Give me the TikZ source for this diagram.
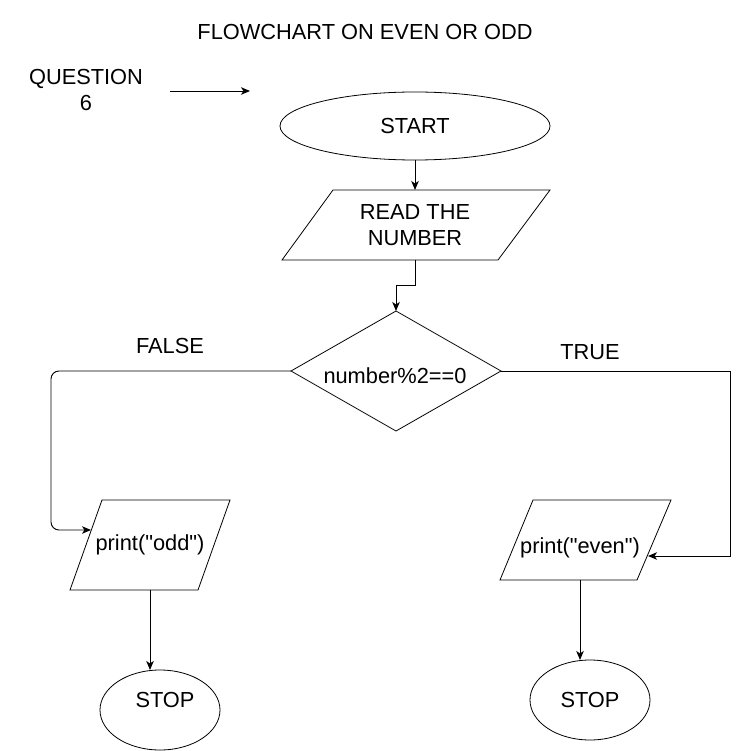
\documentclass[tikz,border=0pt]{standalone}
\usepackage{fontspec}
\setmainfont{Liberation Sans}[Ligatures=TeXOff]
\usetikzlibrary{shapes.geometric,arrows.meta}
\begin{document}
\begin{tikzpicture}[x=1pt,y=-1pt,
  every node/.style={font=\fontsize{21.8}{26}\selectfont, inner sep=0pt, outer sep=0pt},
  shapeline/.style={draw=black, line width=0.8pt},
  conn/.style={draw=black, line width=0.95pt},
  arr/.style={conn, -{Stealth[length=9pt,width=7.5pt,inset=2.5pt]}},
  term/.style={ellipse, shapeline},
  iobox/.style={inner sep=0pt}
]
\useasboundingbox (0,0) rectangle (739,751);

% title and question
\node (title) at (365,32) {FLOWCHART ON EVEN OR ODD};
\node[align=center] (q) at (86,90) {QUESTION\\6};
\coordinate (qa) at (170,91);
\coordinate (qb) at (250,91);
\draw[arr] (qa) -- (qb);

% start
\node[term, minimum width=270pt, minimum height=68pt] (start) at (415,126) {START};

% read the number (parallelogram)
\draw[shapeline] (333,190) -- (550,190) -- (498,260) -- (282,260) -- cycle;
\node[iobox, minimum width=216pt, minimum height=70pt, align=center] (read) at (415,225) {READ THE\\NUMBER};

% decision
\node[diamond, shapeline, aspect=1.75, minimum width=210pt, minimum height=120pt] (dec) at (396,371) {};
\node (dectext) at (395,376) {number\%2==0};

% labels
\node (false) at (170,346) {FALSE};
\node (true) at (590,352) {TRUE};

% print odd
\draw[shapeline] (102,500) -- (230,500) -- (198,590) -- (70,590) -- cycle;
\node[iobox, minimum width=128pt, minimum height=90pt] (odd) at (150,545) {print("odd")};
\coordinate (oddIn) at (91,530);

% print even
\draw[shapeline] (533,500) -- (671,500) -- (637,580) -- (500,580) -- cycle;
\node[iobox, minimum width=137pt, minimum height=80pt,
  label={[xshift=-5pt,yshift=-8pt]center:print("even")}] (even) at (585,540) {};
\coordinate (evenIn) at (648,556);
\coordinate (evenOut) at (580,580);

% stops
\node[term, minimum width=120pt, minimum height=80pt,
  label={[xshift=5pt,yshift=10pt]center:STOP}] (stopL) at (160,710) {};
\node[term, minimum width=120pt, minimum height=80pt] (stopR) at (590,700) {STOP};

% connectors
\draw[arr] (start.south) -- (read.north);
\draw[arr] (read.south) -- ++(0,25) -| (dec.north);
\draw[arr, rounded corners=8pt] (dec.west) -- ++(-240,0) |- (oddIn);
\draw[arr] (dec.east) -- ++(229,0) |- (evenIn);
\draw[arr] (odd.south) -- (odd.south |- stopL.north);
\draw[arr] (evenOut) -- (evenOut |- stopR.north);
\end{tikzpicture}
\end{document}
